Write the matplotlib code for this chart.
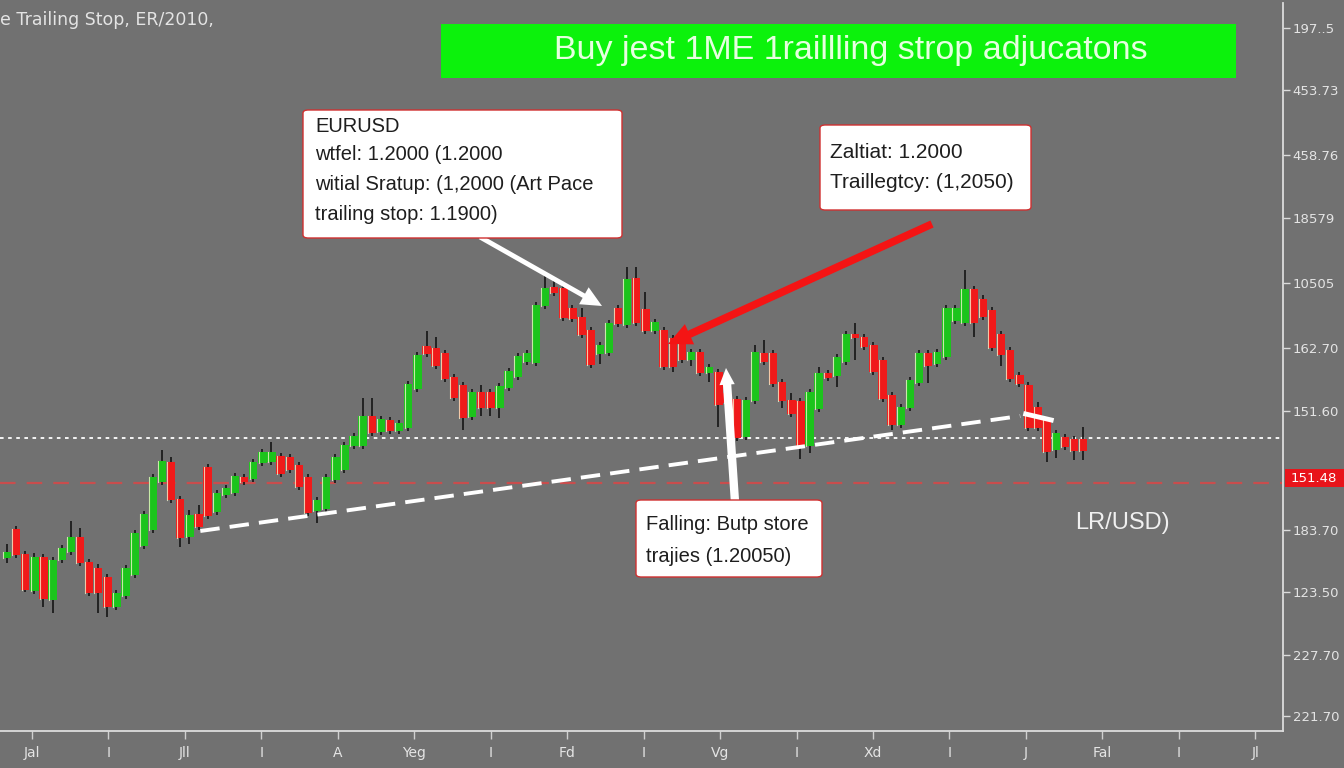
import matplotlib
matplotlib.use("Agg")
import matplotlib.pyplot as plt
from matplotlib.patches import Rectangle, FancyBboxPatch

# ---------------- data ----------------
opens = [1.173,1.202,1.177,1.140,1.174,1.131,1.171,1.179,1.194,1.169,
         1.163,1.154,1.124,1.135,1.156,1.185,1.201,1.249,1.269,1.232,
         1.194,1.217,1.264,1.219,1.236,1.238,1.254,1.252,1.268,1.269,
         1.275,1.274,1.266,1.254,1.220,1.222,1.251,1.261,1.285,1.285,
         1.315,1.299,1.311,1.300,1.303,1.342,1.385,1.383,1.378,1.354,
         1.346,1.314,1.339,1.339,1.323,1.343,1.354,1.369,1.368,1.425,
         1.444,1.443,1.423,1.414,1.401,1.377,1.378,1.423,1.406,1.453,
         1.422,1.400,1.401,1.393,1.387,1.371,1.379,1.358,1.359,1.338,
         1.332,1.294,1.330,1.378,1.378,1.349,1.331,1.330,1.285,1.322,
         1.358,1.355,1.369,1.397,1.394,1.386,1.371,1.336,1.306,1.323,
         1.348,1.378,1.367,1.374,1.410,1.408,1.442,1.432,1.421,1.397,
         1.381,1.356,1.346,1.324,1.311,1.281,1.294,1.292,1.292]
closes = [1.179,1.176,1.141,1.174,1.132,1.171,1.183,1.194,1.168,1.138,
          1.138,1.124,1.138,1.163,1.198,1.217,1.254,1.270,1.231,1.193,
          1.216,1.204,1.215,1.238,1.243,1.255,1.249,1.269,1.279,1.279,
          1.257,1.261,1.244,1.218,1.231,1.254,1.274,1.286,1.295,1.315,
          1.298,1.312,1.300,1.308,1.347,1.376,1.377,1.365,1.352,1.333,
          1.313,1.339,1.323,1.323,1.345,1.360,1.375,1.378,1.426,1.443,
          1.438,1.413,1.412,1.396,1.366,1.386,1.408,1.407,1.452,1.408,
          1.400,1.409,1.364,1.364,1.371,1.379,1.358,1.364,1.326,1.328,
          1.293,1.331,1.379,1.369,1.347,1.330,1.317,1.284,1.339,1.358,
          1.353,1.374,1.397,1.393,1.384,1.359,1.332,1.306,1.324,1.351,
          1.378,1.365,1.379,1.423,1.423,1.442,1.408,1.414,1.383,1.376,
          1.352,1.347,1.303,1.303,1.279,1.298,1.284,1.280,1.280]
highs = [1.187,1.205,1.180,1.178,1.177,1.174,1.186,1.210,1.203,1.172,
         1.167,1.157,1.141,1.166,1.201,1.220,1.257,1.281,1.274,1.235,
         1.221,1.226,1.267,1.241,1.246,1.258,1.257,1.272,1.282,1.289,
         1.278,1.277,1.269,1.257,1.234,1.257,1.277,1.289,1.298,1.333,
         1.333,1.315,1.314,1.311,1.350,1.379,1.400,1.394,1.381,1.357,
         1.349,1.342,1.346,1.342,1.348,1.363,1.378,1.381,1.429,1.459,
         1.453,1.446,1.426,1.423,1.404,1.389,1.411,1.426,1.464,1.464,
         1.439,1.412,1.404,1.396,1.390,1.382,1.382,1.367,1.362,1.341,
         1.335,1.334,1.386,1.391,1.381,1.352,1.338,1.333,1.342,1.364,
         1.361,1.377,1.400,1.408,1.397,1.389,1.374,1.339,1.327,1.354,
         1.381,1.381,1.382,1.426,1.426,1.461,1.445,1.436,1.424,1.400,
         1.384,1.359,1.349,1.329,1.314,1.301,1.297,1.295,1.304]
lows = [1.168,1.173,1.139,1.137,1.124,1.118,1.168,1.176,1.165,1.135,
        1.118,1.114,1.121,1.132,1.153,1.182,1.198,1.246,1.228,1.184,
        1.187,1.201,1.212,1.216,1.233,1.235,1.246,1.249,1.265,1.266,
        1.254,1.258,1.241,1.215,1.208,1.219,1.248,1.258,1.282,1.282,
        1.295,1.296,1.297,1.297,1.300,1.339,1.374,1.362,1.349,1.330,
        1.301,1.311,1.315,1.315,1.313,1.340,1.351,1.366,1.365,1.422,
        1.435,1.410,1.409,1.393,1.363,1.367,1.375,1.404,1.403,1.405,
        1.397,1.397,1.361,1.359,1.368,1.365,1.355,1.349,1.304,1.308,
        1.290,1.291,1.327,1.366,1.344,1.323,1.314,1.272,1.278,1.319,
        1.350,1.344,1.366,1.371,1.381,1.356,1.329,1.301,1.303,1.320,
        1.345,1.348,1.364,1.371,1.407,1.405,1.394,1.411,1.380,1.365,
        1.349,1.344,1.300,1.300,1.269,1.273,1.281,1.271,1.271]

xtick_labels = ["Jal", "I", "Jll", "I", "A", "Yeg", "I", "Fd", "I", "Vg",
                "I", "Xd", "I", "J", "Fal", "I", "Jl"]
ytick_levels = [1.703, 1.641, 1.576, 1.513, 1.448, 1.383, 1.320,
                1.201, 1.139, 1.076, 1.015]
ytick_labels = ["197..5", "453.73", "458.76", "18579", "10505", "162.70",
                "151.60", "183.70", "123.50", "227.70", "221.70"]

white_level = 1.293
red_level = 1.248
red_label = "151.48"
trend_x = [21.2, 111.1]
trend_y = [1.200, 1.315]

title_text = "e Trailing Stop, ER/2010,"
banner_text = "Buy jest 1ME 1raillling strop adjucatons"
box1_lines = ["EURUSD", "wtfel: 1.2000 (1.2000",
              "witial Sratup: (1,2000 (Art Pace", "trailing stop: 1.1900)"]
box2_lines = ["Zaltiat: 1.2000", "Traillegtcy: (1,2050)"]
box3_lines = ["Falling: Butp store", "trajies (1.20050)"]
pair_text = "LR/USD)"

# ---------------- styling ----------------
W, H = 1344, 768
BG = "#717171"
GREEN = "#1cc41c"
RED = "#f01a1a"
WICK = "#1c1c1c"
LIGHT = "#e4e4e4"

fig = plt.figure(figsize=(W / 100, H / 100), dpi=100, facecolor=BG)
ax_left, ax_right, ax_top, ax_bot = 0, 1283, 3, 731
ax = fig.add_axes([ax_left / W, 1 - ax_bot / H, (ax_right - ax_left) / W,
                   (ax_bot - ax_top) / H])
ax.set_facecolor(BG)

n = len(opens)
spacing_px = 9.12
first_px = 7
x0 = -first_px / spacing_px
x1 = x0 + (ax_right - ax_left) / spacing_px
ax.set_xlim(x0, x1)
ax.set_ylim(1.000, 1.728)

body_w = 0.92
for i in range(n):
    ax.plot([i, i], [lows[i], highs[i]], color=WICK, lw=1.3, zorder=2,
            solid_capstyle="butt")
for i in range(n):
    o, c = opens[i], closes[i]
    col = GREEN if c >= o else RED
    bottom = min(o, c)
    height = max(abs(c - o), 0.003)
    ax.add_patch(Rectangle((i - body_w / 2, bottom), body_w, height,
                           facecolor=col, edgecolor="none", zorder=3))
    ax.plot([i - body_w / 2 + 0.05] * 2, [bottom, bottom + height],
            color="#f4f4cc", lw=0.8, alpha=0.8, zorder=4)

# horizontal lines
ax.axhline(white_level, color="white", lw=1.3, ls=(0, (2, 2.5)), zorder=1)
ax.axhline(red_level, color="#d44a4a", lw=1.6, ls=(0, (7, 5)), zorder=1,
           alpha=0.9)

# trend line
ax.plot(trend_x, trend_y, color="white", lw=2.8, ls=(0, (5, 2.6)),
        zorder=5, dash_capstyle="butt")
ax.plot([trend_x[1] + 0.6, trend_x[1] + 3.4],
        [trend_y[1] + 0.002, trend_y[1] - 0.004],
        color="white", lw=3.5, zorder=5)

# axes styling
for s in ["left", "top"]:
    ax.spines[s].set_visible(False)
for s in ["right", "bottom"]:
    ax.spines[s].set_color("#dcdcdc")
    ax.spines[s].set_linewidth(1.3)

ax.yaxis.tick_right()
ax.set_yticks(ytick_levels)
ax.set_yticklabels(ytick_labels)
ax.tick_params(axis="y", colors="#dcdcdc", labelcolor=LIGHT, labelsize=9.5,
               length=5, width=1, pad=2)

first_tick_px = 32
tick_step_px = 76.45
xt = [x0 + (first_tick_px + k * tick_step_px) / spacing_px
      for k in range(len(xtick_labels))]
ax.set_xticks(xt)
ax.set_xticklabels(xtick_labels)
ax.tick_params(axis="x", colors="#cfcfcf", labelcolor=LIGHT, labelsize=10,
               length=6, width=1, pad=5)

# red price label box on right axis
ry = 478
fig.patches.append(Rectangle((1285 / W, 1 - (ry + 9) / H), 59 / W, 18 / H,
                             transform=fig.transFigure, facecolor="#e8141a",
                             edgecolor="none", zorder=10))
fig.text(1314 / W, 1 - ry / H, red_label, color="white", fontsize=9.5,
         ha="center", va="center", zorder=11)

# title
fig.text(0 / W, 1 - 20 / H, title_text, color=LIGHT, fontsize=12.5,
         ha="left", va="center")

# banner
fig.patches.append(Rectangle((441 / W, 1 - 78 / H), (1236 - 441) / W, 54 / H,
                             transform=fig.transFigure, facecolor="#0cf20c",
                             edgecolor="none", zorder=6))
fig.text(851 / W, 1 - 51 / H, banner_text, color="#e6ffe0", fontsize=24.5,
         family="Liberation Sans", ha="center", va="center", zorder=7)


def box(x_l, y_t, x_r, y_b, lines, ys, x_text, fs=14.5):
    fig.patches.append(FancyBboxPatch(
        (x_l / W, 1 - y_b / H), (x_r - x_l) / W, (y_b - y_t) / H,
        boxstyle="round,pad=0,rounding_size=0.004",
        transform=fig.transFigure, facecolor="white", edgecolor="#d03030",
        lw=1.0, zorder=8))
    for t, yy in zip(lines, ys):
        fig.text(x_text / W, 1 - yy / H, t, color="#1e1e1e", fontsize=fs,
                 family="Liberation Sans", ha="left", va="center", zorder=9)


def arrow(tail, head, color, tw, hw, hl):
    ax.annotate("", xy=(head[0], H - head[1]), xycoords="figure pixels",
                xytext=(tail[0], H - tail[1]), textcoords="figure pixels",
                arrowprops=dict(arrowstyle=f"simple,head_width={hw},head_length={hl},tail_width={tw}",
                                color=color, lw=0, shrinkA=0, shrinkB=0),
                zorder=7, annotation_clip=False)


box(303, 110, 622, 238, box1_lines, [127, 155, 185, 215], 315, 14.5)
box(820, 125, 1031, 210, box2_lines, [152, 183], 830, 15)
box(636, 500, 822, 577, box3_lines, [524, 557], 646, 14.5)

arrow((480, 237), (602, 306), "white", 0.35, 1.4, 1.5)
arrow((932, 224), (668, 344), "#f41414", 0.55, 1.6, 1.7)
arrow((735, 502), (726, 368), "white", 0.6, 1.1, 1.2)

fig.text(1075 / W, 1 - 523 / H, pair_text, color="#f0f0f0", fontsize=17,
         family="Liberation Sans", ha="left", va="center")

fig.savefig("out.png", dpi=100, facecolor=BG)
